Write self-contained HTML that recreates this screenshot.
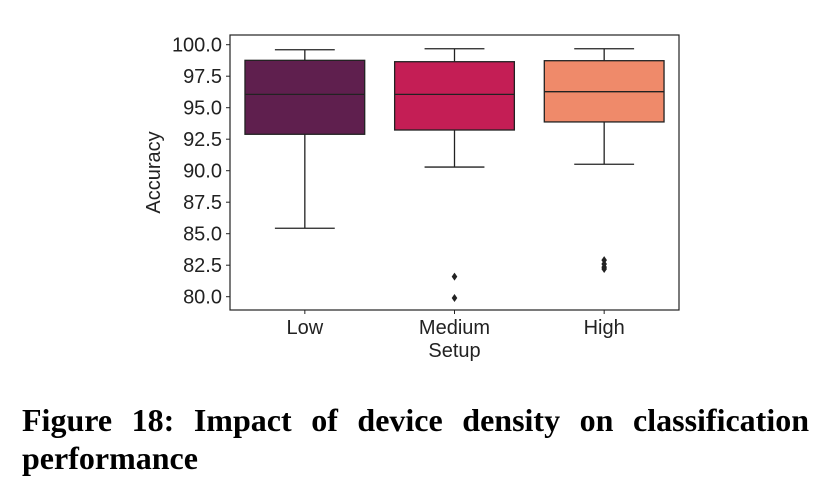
<!DOCTYPE html>
<html><head><meta charset="utf-8"><style>
body{margin:0;background:#fff;width:820px;height:476px;overflow:hidden;position:relative}
svg{position:absolute;left:0;top:0}
.cap{position:absolute;left:22px;top:401px;width:787px;font-family:"Liberation Serif",serif;font-weight:bold;font-size:32px;line-height:38px;text-align:justify;text-align-last:left;color:#000}
</style></head><body>
<svg id="chart" width="820" height="380"></svg>
<div class="cap">Figure 18: Impact of device density on classification performance</div>
<script>
const categories=["Low","Medium","High"];
const whiskerHigh=[99.6,99.68,99.68];
const q3=[98.76,98.65,98.73];
const medians=[96.06,96.06,96.27];
const q1=[92.89,93.23,93.87];
const whiskerLow=[85.43,90.29,90.51];
const outliers=[[],[81.59,79.9],[82.9,82.6,82.35,82.2]];
const colors=["#5f1f4e","#c41e55","#ef8a6a"];
const yTicks=[80,82.5,85,87.5,90,92.5,95,97.5,100];

const NS="http://www.w3.org/2000/svg";
const svg=document.getElementById("chart");
const L=230,R=679,T=35,B=310;
const y=v=>44.7+(100-v)*12.6;
const band=(R-L)/categories.length;
const x=i=>L+band*(i+0.5);
function mk(t,a){const e=document.createElementNS(NS,t);for(const k in a)e.setAttribute(k,a[k]);svg.appendChild(e);return e;}
const frame=mk("rect",{x:L,y:T,width:R-L,height:B-T,fill:"none",stroke:"#222","stroke-width":1.2});


yTicks.forEach(v=>{
 const tk=mk("line",{x1:L-4,x2:L,y1:y(v),y2:y(v),stroke:"#222"});
 
 
 const t=mk("text",{x:L-8,y:y(v)+7,"text-anchor":"end","font-family":"Liberation Sans, sans-serif","font-size":20,fill:"#222"});
 t.textContent=v.toFixed(1);
 
 
});
const bw=band*0.8;
categories.forEach((c,i)=>{
 const cx=x(i);
 const g=document.createElementNS(NS,"g");svg.appendChild(g);
 
 
 const add=(t,a)=>{const e=document.createElementNS(NS,t);for(const k in a)e.setAttribute(k,a[k]);g.appendChild(e);return e;};
 add("line",{x1:cx,x2:cx,y1:y(whiskerHigh[i]),y2:y(q3[i]),stroke:"#222","stroke-width":1.3});
 add("line",{x1:cx,x2:cx,y1:y(q1[i]),y2:y(whiskerLow[i]),stroke:"#222","stroke-width":1.3});
 add("line",{x1:cx-bw/4,x2:cx+bw/4,y1:y(whiskerHigh[i]),y2:y(whiskerHigh[i]),stroke:"#222","stroke-width":1.3});
 add("line",{x1:cx-bw/4,x2:cx+bw/4,y1:y(whiskerLow[i]),y2:y(whiskerLow[i]),stroke:"#222","stroke-width":1.3});
 add("rect",{x:cx-bw/2,y:y(q3[i]),width:bw,height:y(q1[i])-y(q3[i]),fill:colors[i],stroke:"#222","stroke-width":1.3});
 add("line",{x1:cx-bw/2,x2:cx+bw/2,y1:y(medians[i]),y2:y(medians[i]),stroke:"#222","stroke-width":1.3});
 outliers[i].forEach(v=>add("path",{d:`M${cx} ${y(v)-4}L${cx+2.8} ${y(v)}L${cx} ${y(v)+4}L${cx-2.8} ${y(v)}Z`,fill:"#222"}));
 const tk=mk("line",{x1:cx,x2:cx,y1:B,y2:B+4,stroke:"#222"});
 
 
 const t=mk("text",{x:cx,y:B+24,"text-anchor":"middle","font-family":"Liberation Sans, sans-serif","font-size":20,fill:"#222"});
 t.textContent=c;
 
 
});
const xt=mk("text",{x:(L+R)/2,y:357,"text-anchor":"middle","font-family":"Liberation Sans, sans-serif","font-size":20,fill:"#222"});
xt.textContent="Setup";


const yt=mk("text",{x:0,y:0,"text-anchor":"middle","font-family":"Liberation Sans, sans-serif","font-size":20,fill:"#222",transform:`translate(160,${(T+B)/2}) rotate(-90)`});
yt.textContent="Accuracy";


</script>
</body></html>
